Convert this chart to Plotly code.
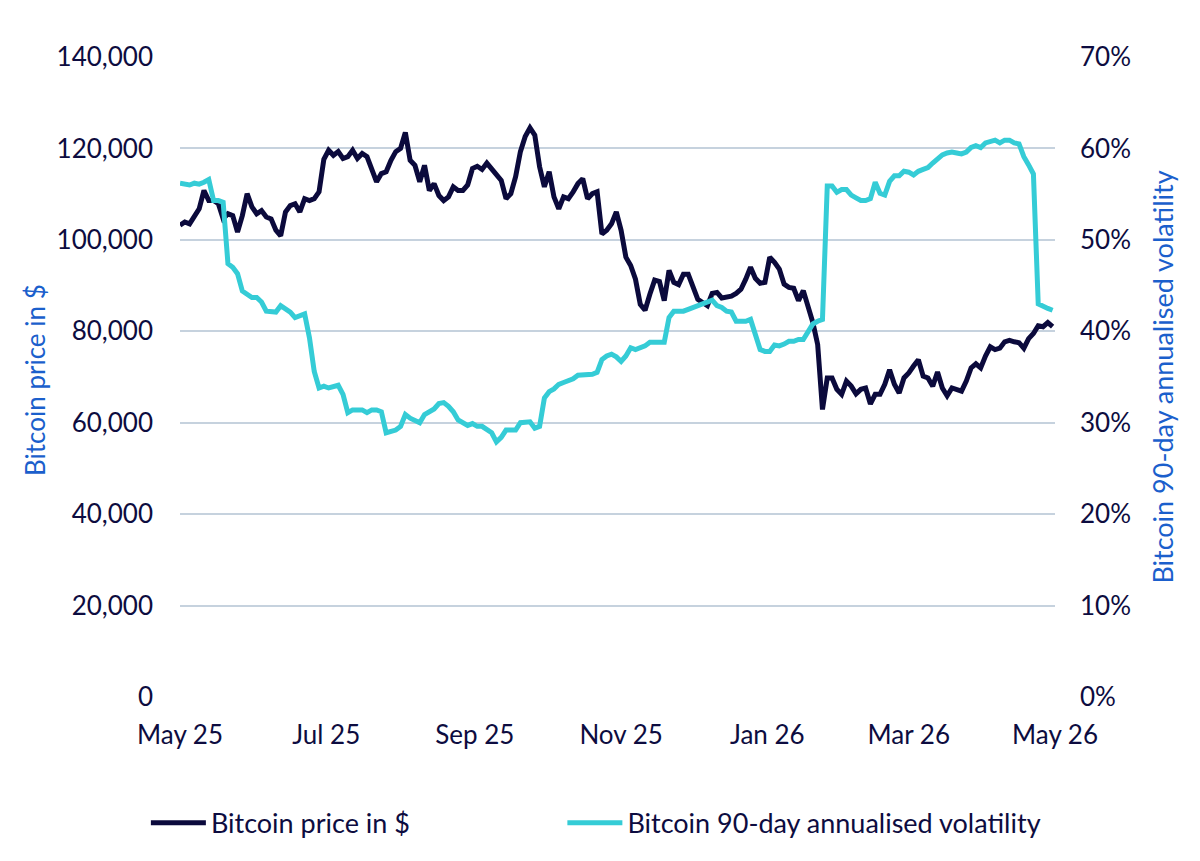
import pandas as pd
import plotly.graph_objects as go

# leitura aproximada do grafico, um ponto a cada 2 dias desde 01/05/2025
datas = pd.date_range(start='2025-05-01', periods=183, freq='2D')

preco_mil = [
    103.2, 103.9, 103.5, 105.3, 106.8, 110.8, 108.6, 108.6, 107.9, 104.6,
    105.7, 105.3, 101.7, 105.3, 110.1, 107.2, 105.7, 106.4, 105.0, 104.6,
    102.1, 100.9, 106.1, 107.5, 107.9, 106.1, 109.0, 108.6, 109.0, 110.5,
    117.6, 119.6, 118.5, 119.3, 117.8, 118.2, 119.6, 117.8, 118.9, 118.2,
    115.2, 112.7, 114.5, 114.9, 117.4, 119.3, 120.0, 123.5, 117.4, 116.3,
    112.7, 116.3, 110.8, 112.3, 109.7, 108.6, 109.4, 111.6, 110.8, 110.8,
    112.0, 115.6, 116.1, 115.4, 116.8, 115.6, 114.1, 113.0, 109.0, 110.1,
    113.8, 119.3, 122.6, 124.5, 122.9, 116.0, 111.6, 114.9, 109.4, 106.8,
    109.4, 109.0, 110.5, 112.3, 113.4, 109.0, 110.1, 110.5, 101.3, 102.1,
    103.5, 106.1, 102.1, 96.2, 94.4, 91.4, 85.9, 84.6, 88.1, 91.2,
    90.9, 86.7, 93.3, 90.7, 90.2, 92.5, 92.5, 90.0, 87.0, 86.3,
    85.6, 88.3, 88.5, 87.3, 87.4, 87.7, 88.3, 89.2, 91.4, 94.0,
    91.6, 90.5, 90.7, 96.2, 95.1, 93.6, 90.3, 89.6, 89.4, 86.7,
    88.9, 85.6, 81.9, 77.1, 62.9, 69.8, 69.8, 67.3, 66.2, 69.1,
    68.0, 66.3, 67.3, 67.6, 64.1, 66.2, 66.2, 68.4, 71.6, 68.4,
    66.5, 69.8, 70.9, 72.4, 73.8, 70.2, 69.8, 68.0, 71.1, 67.6,
    65.9, 67.6, 67.3, 66.9, 69.1, 72.0, 72.9, 72.0, 74.6, 76.6,
    76.0, 76.3, 77.7, 78.0, 77.7, 77.5, 76.3, 78.4, 79.5, 81.2,
    81.0, 81.9, 81.0,
]
preco = [v * 1000 for v in preco_mil]

volatilidade = [
    56.2, 56.1, 56.0, 56.2, 56.1, 56.3, 56.6, 54.3, 54.3, 54.1,
    47.4, 47.0, 46.3, 44.4, 44.1, 43.7, 43.7, 43.2, 42.2, 42.1,
    42.1, 42.8, 42.4, 42.1, 41.5, 41.7, 41.9, 39.3, 35.6, 33.8,
    34.0, 33.8, 34.0, 34.1, 33.1, 31.1, 31.4, 31.4, 31.4, 31.1,
    31.4, 31.4, 31.2, 28.9, 29.0, 29.2, 29.6, 30.9, 30.5, 30.3,
    30.0, 30.9, 31.2, 31.5, 32.1, 32.2, 31.8, 31.2, 30.3, 30.0,
    29.7, 29.9, 29.6, 29.6, 29.3, 28.9, 27.9, 28.4, 29.2, 29.2,
    29.2, 30.0, 30.1, 30.1, 29.4, 29.6, 32.7, 33.4, 33.7, 34.2,
    34.4, 34.6, 34.8, 35.2, 35.2, 35.3, 35.3, 35.5, 36.9, 37.3,
    37.5, 37.2, 36.7, 37.3, 38.2, 38.0, 38.2, 38.4, 38.8, 38.8,
    38.9, 38.8, 41.5, 42.2, 42.2, 42.2, 42.4, 42.6, 42.8, 43.1,
    43.3, 43.4, 42.8, 42.6, 42.2, 42.1, 41.1, 41.1, 41.1, 41.3,
    39.5, 38.0, 37.8, 37.8, 38.5, 38.4, 38.6, 38.9, 38.9, 39.1,
    39.1, 40.0, 40.8, 41.1, 41.3, 55.9, 55.9, 55.2, 55.5, 55.5,
    54.9, 54.6, 54.3, 54.3, 54.5, 56.3, 55.1, 54.9, 56.4, 57.0,
    57.0, 57.5, 57.4, 57.1, 57.5, 57.7, 57.9, 58.4, 58.8, 59.3,
    59.5, 59.6, 59.5, 59.4, 59.6, 60.1, 60.3, 60.1, 60.6, 60.7,
    60.9, 60.6, 60.9, 60.9, 60.6, 60.5, 59.1, 58.2, 57.2, 43.0,
    42.7, 42.5, 42.3,
]

nome_preco = 'Bitcoin price in $'
nome_vol = 'Bitcoin 90-day annualised volatility'

cor_preco = '#0b0a3c'
cor_vol = '#35ccd6'
cor_texto = '#0d0c40'
cor_titulo = '#1b5fcc'
cor_grade = '#c6d2de'
fonte = 'Source Sans Pro, Lato, sans-serif'

fig = go.Figure()

fig.add_trace(
    go.Scatter(
        x=datas,
        y=preco,
        name=nome_preco,
        mode='lines',
        line=dict(color=cor_preco, width=5),
        yaxis='y',
        legend='legend',
    )
)

fig.add_trace(
    go.Scatter(
        x=datas,
        y=volatilidade,
        name=nome_vol,
        mode='lines',
        line=dict(color=cor_vol, width=5),
        yaxis='y2',
        legend='legend2',
    )
)

legenda_base = dict(
    orientation='h',
    xanchor='left',
    y=-0.197,
    yanchor='middle',
    font=dict(size=27, color=cor_texto),
    itemwidth=55,
    bgcolor='rgba(0,0,0,0)',
)

fig.update_layout(
    width=1200,
    height=861,
    autosize=False,
    plot_bgcolor='white',
    paper_bgcolor='white',
    font=dict(family=fonte, size=26, color=cor_texto),
    margin=dict(l=172, r=153, t=49, b=172),
    xaxis=dict(
        type='date',
        range=['2025-05-01', '2026-05-01'],
        tick0='2025-05-01',
        dtick='M2',
        tickformat='%b %y',
        showgrid=False,
        zeroline=False,
        showline=False,
        ticks='',
        ticklabelstandoff=20,
    ),
    yaxis=dict(
        range=[0, 140000],
        dtick=20000,
        tickformat=',d',
        showgrid=True,
        gridcolor=cor_grade,
        gridwidth=2,
        zeroline=False,
        ticks='',
        ticklabelstandoff=26,
    ),
    yaxis2=dict(
        range=[0, 70],
        dtick=10,
        ticksuffix='%',
        overlaying='y',
        side='right',
        showgrid=False,
        zeroline=False,
        ticks='',
        ticklabelstandoff=24,
        title=dict(text=nome_vol, font=dict(color=cor_titulo, size=27), standoff=24),
    ),
    legend=dict(legenda_base, x=-0.039),
    legend2=dict(legenda_base, x=0.437),
    showlegend=True,
    annotations=[
        dict(
            text=nome_preco,
            xref='paper',
            yref='paper',
            x=-0.166,
            y=0.495,
            xanchor='center',
            yanchor='middle',
            textangle=-90,
            showarrow=False,
            font=dict(color=cor_titulo, size=26),
        )
    ],
)

fig.write_html('out.html')
